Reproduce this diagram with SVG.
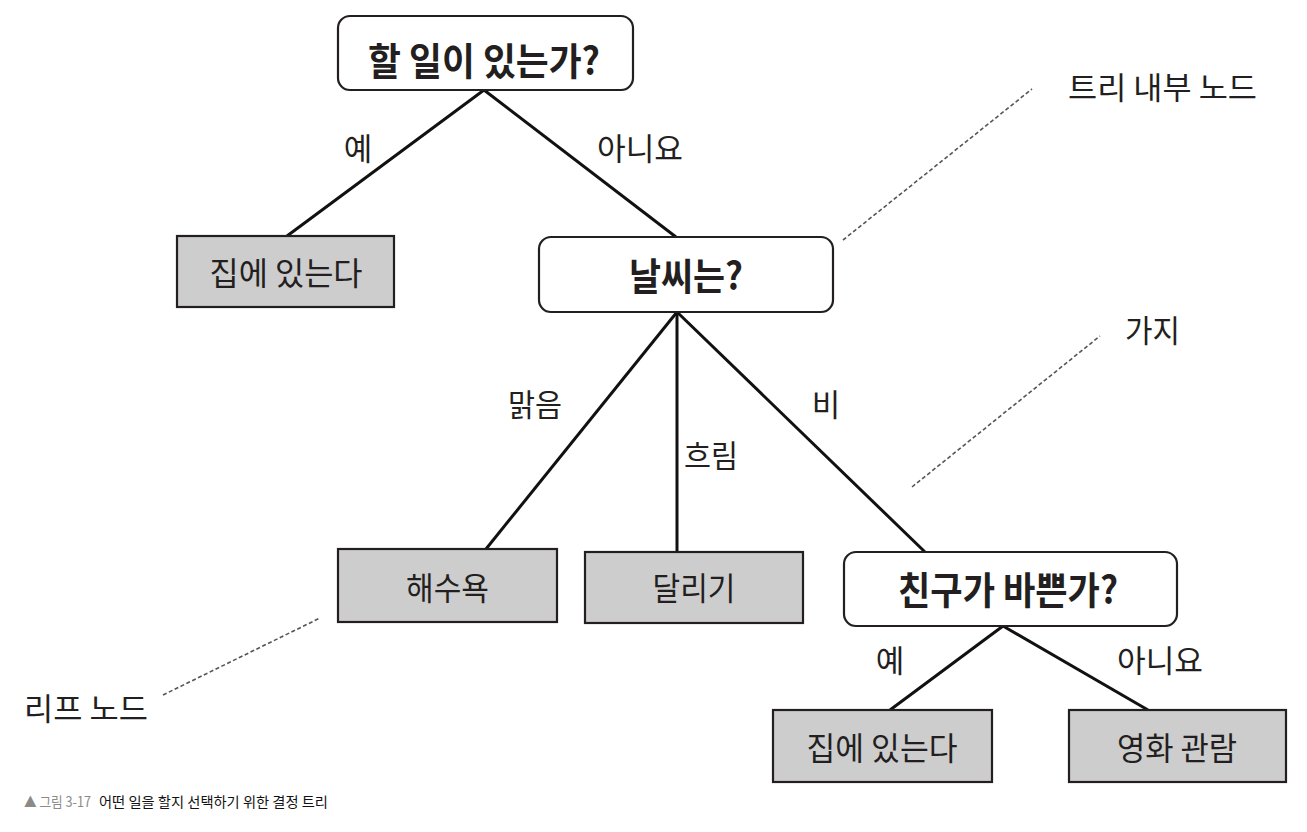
<svg xmlns="http://www.w3.org/2000/svg" width="1307" height="832" viewBox="0 0 1307 832">
<style>
text{font-family:"Noto Sans CJK KR","Noto Sans",sans-serif;fill:#231f20;text-anchor:middle}
.q{fill:#fff;stroke:#231f20;stroke-width:2.2}
.leaf{fill:#cdcdcd;stroke:#231f20;stroke-width:2.2}
.qt{font-size:38px;font-weight:700}
.lt{font-size:32px}
.lab{font-size:31px}
.ann{font-size:31px;text-anchor:start}
.edge{stroke:#111;stroke-width:3;fill:none}
.dash{stroke:#555;stroke-width:1.6;stroke-dasharray:4 2.5;fill:none}
.cap{font-size:14px;text-anchor:start}
</style>
<rect width="1307" height="832" fill="#fff"/>
<g id="connectors">
<line class="edge" x1="484" y1="90" x2="287" y2="236"/>
<line class="edge" x1="484" y1="90" x2="676" y2="237"/>
<line class="edge" x1="677" y1="312" x2="486" y2="549"/>
<line class="edge" x1="677" y1="312" x2="677" y2="552"/>
<line class="edge" x1="677" y1="312" x2="925" y2="552"/>
<line class="edge" x1="1003" y1="626" x2="890" y2="710"/>
<line class="edge" x1="1003" y1="626" x2="1148" y2="710"/>
</g>
<g id="edge-labels">
<text class="lab" x="358" y="160">예</text>
<text class="lab" x="640" y="160" textLength="86" lengthAdjust="spacingAndGlyphs">아니요</text>
<text class="lab" x="535" y="416" textLength="54" lengthAdjust="spacingAndGlyphs">맑음</text>
<text class="lab" x="711" y="467" textLength="54" lengthAdjust="spacingAndGlyphs">흐림</text>
<text class="lab" x="826" y="416">비</text>
<text class="lab" x="890" y="672">예</text>
<text class="lab" x="1160" y="672" textLength="86" lengthAdjust="spacingAndGlyphs">아니요</text>
</g>
<g id="node-root">
<rect class="q" x="338" y="16" width="295" height="74" rx="12"/>
<text class="qt" x="484" y="75" textLength="232" lengthAdjust="spacingAndGlyphs">할 일이 있는가?</text>
</g>
<g id="node-stay-home-1">
<rect class="leaf" x="177" y="236" width="217" height="71"/>
<text class="lt" x="286" y="285" textLength="153" lengthAdjust="spacingAndGlyphs">집에 있는다</text>
</g>
<g id="node-weather">
<rect class="q" x="539" y="237" width="294" height="75" rx="12"/>
<text class="qt" x="686" y="290" textLength="114" lengthAdjust="spacingAndGlyphs">날씨는?</text>
</g>
<g id="node-beach">
<rect class="leaf" x="338" y="549" width="219" height="73"/>
<text class="lt" x="447.5" y="600" textLength="83" lengthAdjust="spacingAndGlyphs">해수욕</text>
</g>
<g id="node-run">
<rect class="leaf" x="585" y="552" width="218" height="71"/>
<text class="lt" x="694" y="600" textLength="83" lengthAdjust="spacingAndGlyphs">달리기</text>
</g>
<g id="node-friend">
<rect class="q" x="844" y="552" width="333" height="74" rx="12"/>
<text class="qt" x="1008" y="604" textLength="220" lengthAdjust="spacingAndGlyphs">친구가 바쁜가?</text>
</g>
<g id="node-stay-home-2">
<rect class="leaf" x="773" y="710" width="219" height="72"/>
<text class="lt" x="882" y="760" textLength="151" lengthAdjust="spacingAndGlyphs">집에 있는다</text>
</g>
<g id="node-movie">
<rect class="leaf" x="1069" y="710" width="217" height="72"/>
<text class="lt" x="1177" y="760" textLength="120" lengthAdjust="spacingAndGlyphs">영화 관람</text>
</g>
<g id="annotations">
<line class="dash" x1="843" y1="240" x2="1032" y2="89"/>
<line class="dash" x1="912" y1="487" x2="1100" y2="336"/>
<line class="dash" x1="163" y1="695" x2="320" y2="618"/>
<text class="ann" x="1068" y="99" textLength="189" lengthAdjust="spacingAndGlyphs">트리 내부 노드</text>
<text class="ann" x="1125" y="342" textLength="55" lengthAdjust="spacingAndGlyphs">가지</text>
<text class="ann" x="24" y="720" textLength="124" lengthAdjust="spacingAndGlyphs">리프 노드</text>
</g>
<g id="caption">
<text class="cap" x="24" y="807" textLength="67" lengthAdjust="spacingAndGlyphs" style="fill:#8a8a8a">▲ 그림 3-17</text>
<text class="cap" x="99" y="807" textLength="229" lengthAdjust="spacingAndGlyphs" style="fill:#111">어떤 일을 할지 선택하기 위한 결정 트리</text>
</g>
</svg>
